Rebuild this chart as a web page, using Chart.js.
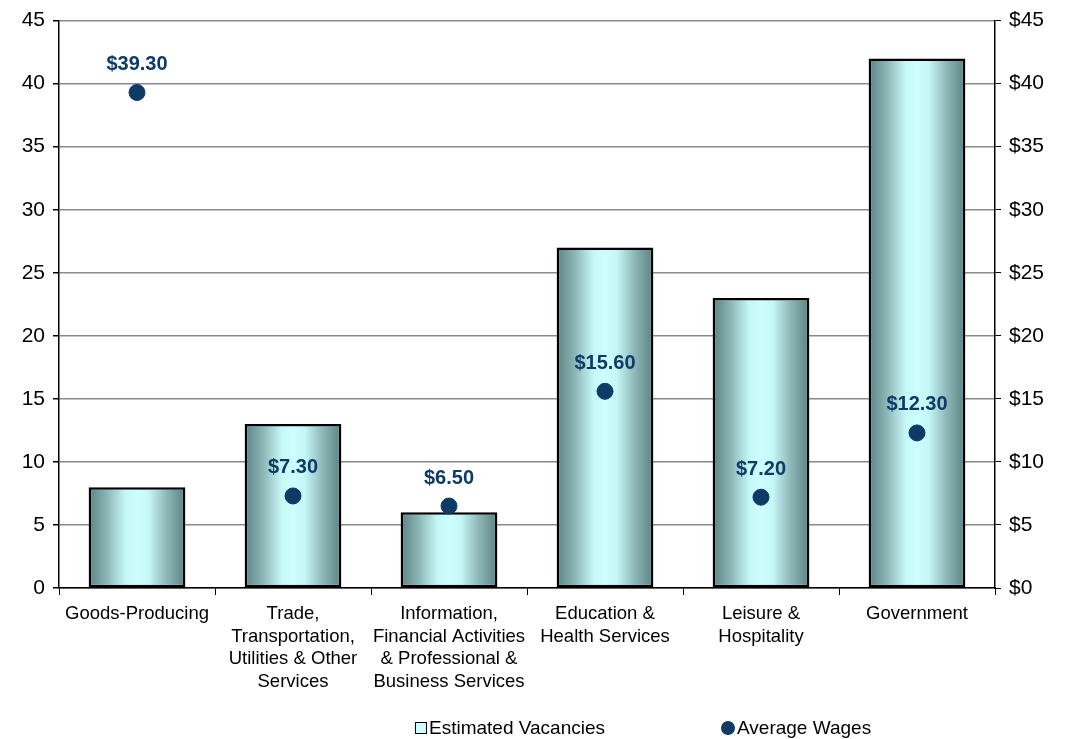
<!DOCTYPE html>
<html>
<head>
<meta charset="utf-8">
<script src="https://cdn.jsdelivr.net/npm/chart.js@4"></script>
<style>
  html, body { margin: 0; padding: 0; background: #fff; }
  #wrap { position: relative; width: 1065px; height: 739px; }
  #legend { position: absolute; top: 717px; left: 0; width: 1065px; height: 22px;
    font-family: "Liberation Sans", Arial, sans-serif; font-size: 19px; color: #000; }
  .item { position: absolute; top: 0; display: flex; align-items: center; white-space: nowrap; }
  .sw-bar { width: 10px; height: 10px; border: 1.5px solid #000; background: #ccffff; margin-right: 2px; }
  .sw-dot { width: 14px; height: 14px; border-radius: 50%; background: #0d3b66; margin-right: 2px; }
</style>
</head>
<body>
<div id="wrap">
  <canvas id="vagas" width="1065" height="739"></canvas>
  <div id="legend">
    <div class="item" style="left:415px"><span class="sw-bar"></span>Estimated Vacancies</div>
    <div class="item" style="left:721px"><span class="sw-dot"></span>Average Wages</div>
  </div>
</div>
<script>
setores = [
	'Goods-Producing',
	['Trade,', 'Transportation,', 'Utilities & Other', 'Services'],
	['Information,', 'Financial Activities', '& Professional &', 'Business Services'],
	['Education &', 'Health Services'],
	['Leisure &', 'Hospitality'],
	'Government'
];
vagas = [8, 13, 6, 27, 23, 42];
salarios = [39.3, 7.3, 6.5, 15.6, 7.2, 12.3];

fonte = '"Liberation Sans", Arial, sans-serif';
larguraBarra = 0.62;

// gradiente horizontal de cada barra (escuro nas bordas, claro no meio)
function corBarra(context) {
	var chart = context.chart;
	var x = chart.scales.x;
	var area = chart.chartArea;
	if (!x || !area || context.dataIndex === undefined) return '#ccffff';
	var centro = x.getPixelForValue(context.dataIndex);
	var meia = (area.right - area.left) / setores.length * larguraBarra / 2;
	var g = chart.ctx.createLinearGradient(centro - meia, 0, centro + meia, 0);
	g.addColorStop(0, '#5a8282');
	g.addColorStop(0.18, '#8ab3b3');
	g.addColorStop(0.38, '#c6f7f7');
	g.addColorStop(0.5, '#ccffff');
	g.addColorStop(0.62, '#c6f7f7');
	g.addColorStop(0.82, '#8ab3b3');
	g.addColorStop(1, '#5a8282');
	return g;
}

// valores em cima dos pontos de salario
const rotulosSalario = {
	id: 'rotulosSalario',
	afterDatasetsDraw(chart) {
		var ctx = chart.ctx;
		var meta = chart.getDatasetMeta(1);
		ctx.save();
		ctx.font = 'bold 20px ' + fonte;
		ctx.fillStyle = '#0d3b66';
		ctx.textAlign = 'center';
		ctx.textBaseline = 'middle';
		meta.data.forEach(function (p, i) {
			ctx.fillText('$' + salarios[i].toFixed(2), p.x, p.y - 28);
		});
		ctx.restore();
	}
};

var ctx = document.getElementById('vagas').getContext('2d');
new Chart(ctx, {
	data: {
		labels: setores,
		datasets: [
			{
				type: 'bar',
				label: 'Estimated Vacancies',
				data: vagas,
				backgroundColor: corBarra,
				borderColor: '#000',
				borderWidth: 2.5,
				borderSkipped: false,
				categoryPercentage: 1,
				barPercentage: larguraBarra,
				yAxisID: 'y',
				order: 2
			},
			{
				type: 'scatter',
				label: 'Average Wages',
				data: salarios,
				backgroundColor: '#0d3b66',
				borderColor: '#0d3b66',
				pointRadius: 8,
				pointHoverRadius: 8,
				showLine: false,
				yAxisID: 'y1',
				order: 1
			}
		]
	},
	options: {
		responsive: false,
		animation: false,
		layout: {
			padding: { top: 19, bottom: 30 }
		},
		plugins: {
			legend: { display: false },
			tooltip: { enabled: false }
		},
		scales: {
			x: {
				type: 'category',
				offset: true,
				grid: {
					offset: true,
					drawOnChartArea: false,
					color: '#000',
					tickLength: 7
				},
				border: { color: '#000', width: 1.5 },
				ticks: {
					color: '#000',
					font: { family: fonte, size: 18.5, lineHeight: 1.24 },
					maxRotation: 0,
					autoSkip: false,
					padding: 7
				},
				afterFit: function (scale) { scale.height = 121; }
			},
			y: {
				position: 'left',
				min: 0,
				max: 45,
				ticks: {
					stepSize: 5,
					color: '#000',
					font: { family: fonte, size: 21 },
					padding: 8
				},
				grid: {
					color: '#8a8a8a',
					lineWidth: 1.5,
					tickColor: '#000',
					tickLength: 6
				},
				border: { color: '#000', width: 1.5 },
				afterFit: function (scale) { scale.width = 59; }
			},
			y1: {
				position: 'right',
				min: 0,
				max: 45,
				ticks: {
					stepSize: 5,
					color: '#000',
					font: { family: fonte, size: 21 },
					padding: 8,
					callback: function (v) { return '$' + v; }
				},
				grid: {
					drawOnChartArea: false,
					tickColor: '#000',
					tickLength: 6
				},
				border: { color: '#000', width: 1.5 },
				afterFit: function (scale) { scale.width = 70; }
			}
		}
	},
	plugins: [rotulosSalario]
});
</script>
</body>
</html>
